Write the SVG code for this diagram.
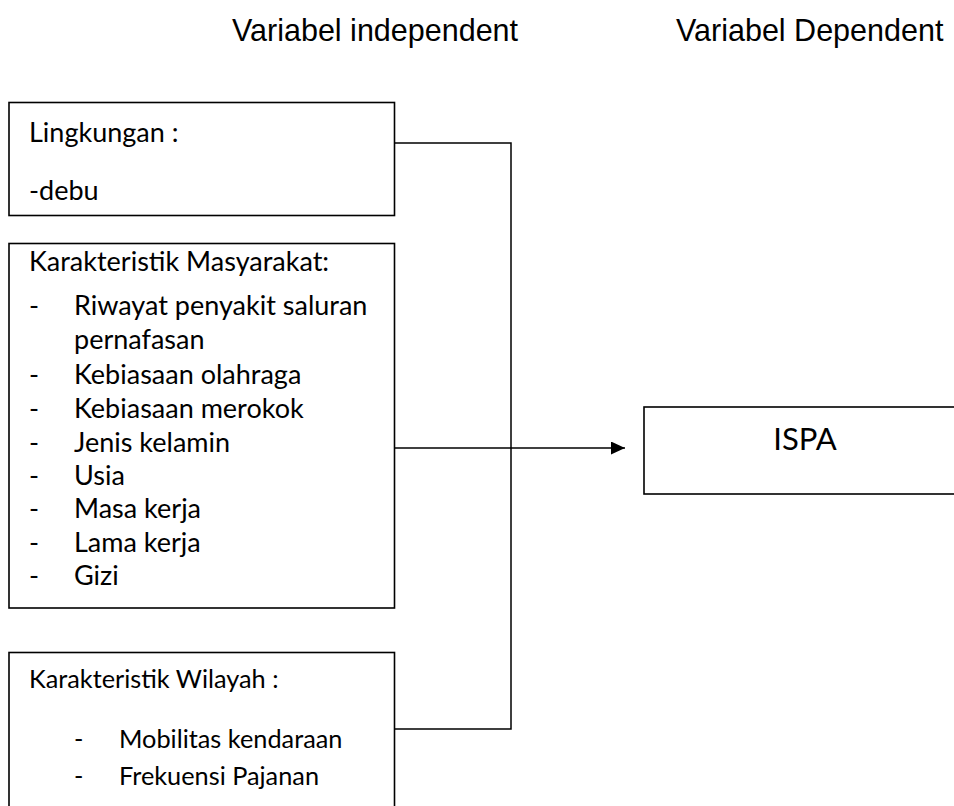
<svg xmlns="http://www.w3.org/2000/svg" width="954" height="806" viewBox="0 0 954 806">
<style>
.box{fill:#fff;stroke:#000;stroke-width:1.6}
.t{font-family:Lato,"Open Sans",sans-serif;fill:#000}
.a{font-size:27px}
.b{font-size:25.3px}
.h{font-family:"Liberation Sans",Arial,sans-serif;font-size:30.5px;fill:#000}
.c{fill:none;stroke:#000;stroke-width:1.5}
</style>
<defs>
<marker id="ah" markerWidth="14" markerHeight="13" refX="14" refY="6.5" orient="auto" markerUnits="userSpaceOnUse">
<path d="M0,0 L14,6.5 L0,13 Z" fill="#000"/>
</marker>
</defs>
<rect width="954" height="806" fill="#fff"/>
<g id="titles">
<text class="h" x="232" y="41">Variabel independent</text>
<text class="h" x="676" y="41">Variabel Dependent</text>
</g>
<g id="connectors">
<polyline class="c" points="395,143 511,143 511,729 395,729"/>
<line class="c" x1="395" y1="448" x2="625" y2="448" marker-end="url(#ah)"/>
</g>
<g id="lingkungan">
<rect class="box" x="9" y="102.5" width="385.5" height="113"/>
<text class="t a" x="29" y="142">Lingkungan :</text>
<text class="t a" x="29" y="200">-debu</text>
</g>
<g id="masyarakat">
<rect class="box" x="9" y="243.5" width="385.5" height="364.5"/>
<text class="t a" x="29" y="271">Karakteristik Masyarakat:</text>
<g class="t a">
<text x="29" y="315">-</text><text x="74" y="315">Riwayat penyakit saluran</text>
<text x="74" y="349">pernafasan</text>
<text x="29" y="384">-</text><text x="74" y="384">Kebiasaan olahraga</text>
<text x="29" y="418">-</text><text x="74" y="418">Kebiasaan merokok</text>
<text x="29" y="452">-</text><text x="74" y="452">Jenis kelamin</text>
<text x="29" y="485">-</text><text x="74" y="485">Usia</text>
<text x="29" y="518">-</text><text x="74" y="518">Masa kerja</text>
<text x="29" y="552">-</text><text x="74" y="552">Lama kerja</text>
<text x="29" y="585">-</text><text x="74" y="585">Gizi</text>
</g>
</g>
<g id="wilayah">
<rect class="box" x="9" y="652.5" width="385.5" height="170"/>
<text class="t b" x="29" y="688">Karakteristik Wilayah :</text>
<text class="t b" x="74" y="748">-</text><text class="t b" x="119" y="748">Mobilitas kendaraan</text>
<text class="t b" x="74" y="785">-</text><text class="t b" x="119" y="785">Frekuensi Pajanan</text>
</g>
<g id="ispa">
<rect class="box" x="644" y="407" width="330" height="87"/>
<text class="t" x="805" y="450" font-size="31" text-anchor="middle">ISPA</text>
</g>
</svg>
